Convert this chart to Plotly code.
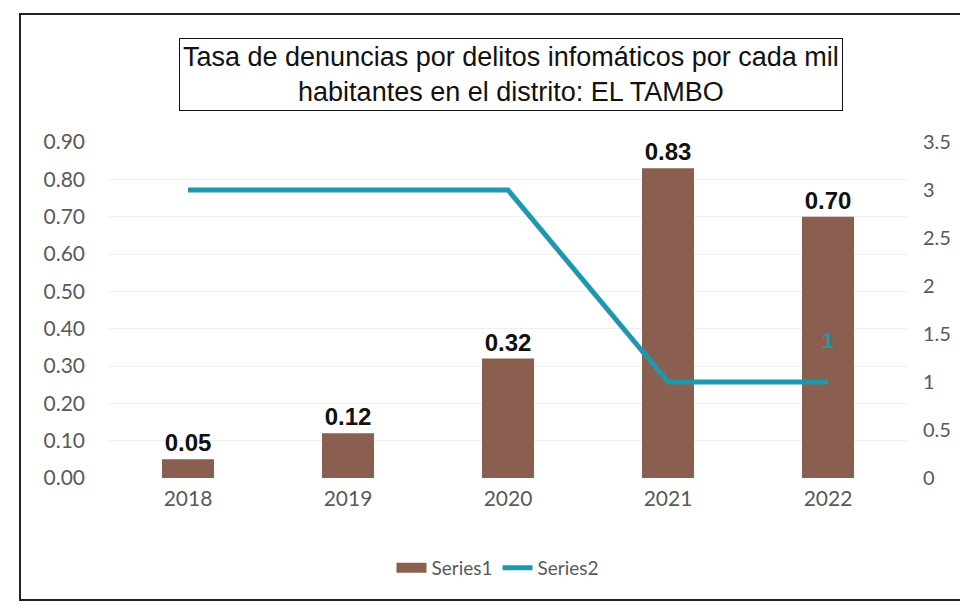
import plotly.graph_objects as go

years = ["2018", "2019", "2020", "2021", "2022"]
series1 = [0.05, 0.12, 0.32, 0.83, 0.70]
series2 = [3, 3, 3, 1, 1]
series2_labels = ["", "", "", "", "1"]
title_text = "Tasa de denuncias por delitos infomáticos por cada mil<br>habitantes en el distrito: EL TAMBO"

BAR_COLOR = "#8B5F4F"
LINE_COLOR = "#1F97AE"

W, H = 968, 608
L, R, T, B = 100, 68, 134, 138
pw, ph = W - L - R, H - T - B

def px_x(x):
    return (x - L) / pw

def px_y(y):
    return (H - B - y) / ph

fig = go.Figure()
fig.add_trace(go.Bar(
    x=years, y=series1, name="Series1", showlegend=False,
    marker=dict(color=BAR_COLOR, line=dict(width=0)),
    text=[f"<b>{v:.2f}</b>" for v in series1], textposition="outside",
    textfont=dict(family="Liberation Sans, Arial", size=24, color="#111111"),
    cliponaxis=False,
))
fig.add_trace(go.Scatter(
    x=years, y=series2, name="Series2", yaxis="y2", showlegend=False,
    mode="lines+text", line=dict(color=LINE_COLOR, width=5),
    text=[f"<b>{t}</b><br> " if t else "" for t in series2_labels],
    textposition="top center",
    textfont=dict(family="Liberation Sans, Arial", size=22, color=LINE_COLOR),
    cliponaxis=False,
))
# legend entries
fig.add_trace(go.Scatter(
    x=[None], y=[None], name="Series1", mode="lines",
    line=dict(color=BAR_COLOR, width=14),
))
fig.add_trace(go.Scatter(
    x=[None], y=[None], name="Series2", mode="lines",
    line=dict(color=LINE_COLOR, width=5),
))

fig.update_layout(
    width=W, height=H,
    margin=dict(l=L, r=R, t=T, b=B),
    paper_bgcolor="white", plot_bgcolor="white",
    bargap=0.675,
    font=dict(family="Lato, Open Sans, sans-serif", color="#595959", size=19),
    xaxis=dict(showgrid=False, showline=False, ticks="", tickfont=dict(size=21),
               ticklabelstandoff=6),
    yaxis=dict(range=[0, 0.9], dtick=0.1, tickformat=".2f", showgrid=True,
               gridcolor="#EFEFEF", gridwidth=1, zeroline=False, showline=False,
               tickfont=dict(size=21), ticklabelstandoff=22),
    yaxis2=dict(range=[0, 3.5], dtick=0.5, overlaying="y", side="right",
                showgrid=False, zeroline=False, showline=False,
                tickfont=dict(size=20), ticklabelstandoff=14),
    legend=dict(orientation="h", x=px_x(490), y=px_y(560), xanchor="center",
                yanchor="middle", font=dict(size=19, color="#595959"),
                itemwidth=30, tracegroupgap=0),
    showlegend=True,
    annotations=[dict(
        text=title_text, xref="paper", yref="paper",
        x=px_x(503), y=px_y(66), xanchor="center", yanchor="middle",
        showarrow=False, align="center",
        font=dict(family="Liberation Sans, Arial", size=27, color="#111111"),
        bordercolor="#111111", borderwidth=1, borderpad=3, bgcolor="white",
    )],
    shapes=[dict(
        type="rect", xref="paper", yref="paper",
        x0=px_x(12), x1=px_x(1000), y0=px_y(592), y1=px_y(6),
        line=dict(color="#222222", width=2), layer="below",
    )],
)

fig.write_html("out.html")
